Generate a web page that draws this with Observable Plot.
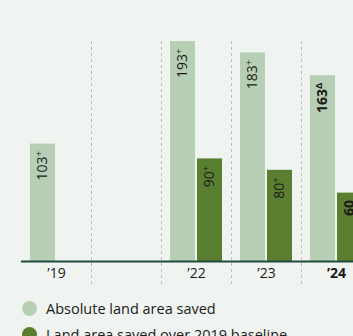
<!DOCTYPE html>
<html><head><meta charset="utf-8">
<script src="https://cdn.jsdelivr.net/npm/d3@7"></script>
<script src="https://cdn.jsdelivr.net/npm/@observablehq/plot@0.6"></script>
<style>
html,body{margin:0;padding:0;background:#f0f4f0;overflow:hidden;width:353px;height:336px;}
#chart svg{display:block;overflow:visible;max-width:none !important;width:372px !important;height:290px !important;}
.legend{font-family:"Open Sans", sans-serif;font-size:14.5px;color:#1a1a1a;padding:5px 0 0 22px;}
.row{display:flex;align-items:center;height:26.5px;white-space:nowrap;}
.dot{width:15px;height:15px;border-radius:50%;margin-right:9px;flex:none;}
</style></head><body>
<div id="chart"></div>
<div class="legend" id="legend"></div>
<script>
const years = ["2019", "2020", "2022", "2023", "2024"];
const tickLabels = ["\u201919", "", "\u201922", "\u201923", "\u201924"];
const absolute = [103, null, 193, 183, 163];
const absSuffix = ["+", "", "+", "+", "\u0394"];
const overBaseline = [null, null, 90, 80, 60];
const baseSuffix = ["", "", "+", "+", ""];
const seriesNames = ["Absolute land area saved", "Land area saved over 2019 baseline"];
const colors = ["#b7cfb5", "#5a7f31"];
const highlightYear = "2024";

const rows = years.map((year, i) => ({
  year, absolute: absolute[i], absSuffix: absSuffix[i],
  base: overBaseline[i], baseSuffix: baseSuffix[i]
}));
const absRows = rows.filter(d => d.absolute != null);
const baseRows = rows.filter(d => d.base != null);
const txt = {rotate: -90, textAnchor: "end", fontSize: 14, fill: "#1a1a1a", dy: 7};

const chart = Plot.plot({
  width: 372, height: 290,
  marginLeft: 21, marginRight: 1, marginTop: 41, marginBottom: 29,
  style: {background: "transparent", fontFamily: "'Open Sans', sans-serif", fontSize: "14px", color: "#1a1a1a", overflow: "visible"},
  x: {domain: years, padding: 0, tickFormat: d => tickLabels[years.indexOf(d)], tickSize: 0, tickPadding: 7, label: null},
  y: {domain: [0, 193], axis: null},
  marks: [
    Plot.ruleX(years.slice(1), {x: d => d, dx: -35, stroke: "#bdbdbd", strokeDasharray: "3,3", insetBottom: -23}),
    Plot.barY(absRows, {x: "year", y: "absolute", fill: colors[0], insetLeft: 9, insetRight: 36}),
    Plot.barY(baseRows, {x: "year", y: "base", fill: colors[1], insetLeft: 36, insetRight: 9}),
    Plot.ruleY([0], {stroke: "#1f4a3b", strokeWidth: 2}),
    Plot.text(absRows.filter(d => d.year !== highlightYear), {...txt, x: "year", y: "absolute", text: d => d.absolute + d.absSuffix, dx: -13.5}),
    Plot.text(absRows.filter(d => d.year === highlightYear), {...txt, x: "year", y: "absolute", text: d => d.absolute + d.absSuffix, dx: -13.5, fontWeight: "bold"}),
    Plot.text(baseRows.filter(d => d.year !== highlightYear), {...txt, x: "year", y: "base", text: d => d.base + d.baseSuffix, dx: 13.5}),
    Plot.text(baseRows.filter(d => d.year === highlightYear), {...txt, x: "year", y: "base", text: d => d.base + d.baseSuffix, dx: 13.5, fontWeight: "bold"})
  ]
});
document.getElementById("chart").appendChild(chart);

// superscript suffixes
d3.select(chart).selectAll("text").each(function() {
  const t = this.textContent;
  if (this.childElementCount === 0 && /[+\u0394]$/.test(t)) {
    const sel = d3.select(this);
    sel.text(null);
    sel.append("tspan").text(t.slice(0, -1));
    sel.append("tspan").attr("font-size", "9.5px").attr("dy", "-5").text(t.slice(-1));
  }
});
// bold highlighted tick
d3.select(chart).selectAll("text").filter(function() {
  return this.textContent === tickLabels[years.indexOf(highlightYear)];
}).attr("font-weight", "bold");

const legend = d3.select("#legend");
seriesNames.forEach((name, i) => {
  const row = legend.append("div").attr("class", "row");
  row.append("span").attr("class", "dot").style("background", colors[i]);
  row.append("span").text(name);
});
</script>
</body></html>
